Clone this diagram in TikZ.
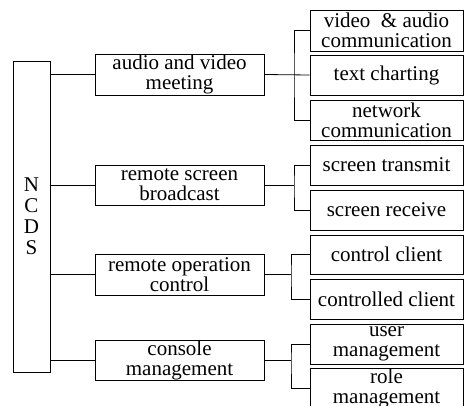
\documentclass[tikz,border=0pt]{standalone}
\usepackage{fontspec}
\setmainfont{Liberation Serif}
\usepackage{tikz}

\begin{document}
\begin{tikzpicture}[x=1pt,y=-1pt,line width=0.8pt,
	font=\fontsize{21}{20}\selectfont,
	box/.style={draw,align=center,inner sep=0pt}]
	\useasboundingbox (0,0) rectangle (464,405);
	\clip (0,0) rectangle (464,405);
	
	% Define the root and the four modules
	\node[box,minimum width=37pt,minimum height=311pt] (ncds) at (31.5,216.5) {N\\[1pt]C\\[1pt]D\\[1pt]S};
	\node[box,minimum width=169pt,minimum height=41pt] (avm) at (179.5,74.5) {audio and video\\meeting};
	\node[box,minimum width=169pt,minimum height=40pt] (rsb) at (179.5,185) {remote screen\\broadcast};
	\node[box,minimum width=169pt,minimum height=41pt] (roc) at (179.5,274.5) {remote operation\\control};
	\node[box,minimum width=169pt,minimum height=40pt] (cm) at (179.5,360) {console\\management};
	
	% Define the functions of each module
	\node[box,minimum width=153pt,minimum height=41pt] (vac) at (386.5,30.5) {video\ \ \& audio\\communication};
	\node[box,minimum width=153pt,minimum height=40pt] (tc) at (386.5,75) {text charting};
	\node[box,minimum width=153pt,minimum height=40pt] (nc) at (386.5,120) {network\\communication};
	\node[box,minimum width=153pt,minimum height=40pt] (st) at (386.5,165) {screen transmit};
	\node[box,minimum width=153pt,minimum height=40pt] (sr) at (386.5,210) {screen receive};
	\node[box,minimum width=153pt,minimum height=39pt] (cc) at (386.5,254.5) {control client};
	\node[box,minimum width=153pt,minimum height=40pt] (cdc) at (386.5,299) {controlled client};
	\node[box,minimum width=153pt,minimum height=40pt] (um) at (386.5,344) {user\\management};
	\node[box,minimum width=153pt,minimum height=40pt] (rm) at (386.5,388) {role\\management};
	
	% Define the branch points
	\coordinate (j1) at (294,75);
	\coordinate (j2) at (294,185);
	\coordinate (j3) at (291,274.5);
	\coordinate (j4) at (291,360);
	
	% Draw the root links
	\draw (ncds.east |- avm.west) -- (avm.west);
	\draw (ncds.east |- rsb.west) -- (rsb.west);
	\draw (ncds.east |- roc.west) -- (roc.west);
	\draw (ncds.east |- cm.west) -- (cm.west);
	
	% Draw the module links
	\draw (avm.east) -- (tc.west);
	\draw (vac.west) -| (j1) |- (nc.west);
	\draw (rsb.east) -- (j2);
	\draw (st.west) -| (j2) |- (sr.west);
	\draw (roc.east) -- (j3);
	\draw (cc.west) -| (j3) |- (cdc.west);
	\draw (cm.east) -- (j4);
	\draw (um.west) -| (j4) |- (rm.west);
\end{tikzpicture}
\end{document}
